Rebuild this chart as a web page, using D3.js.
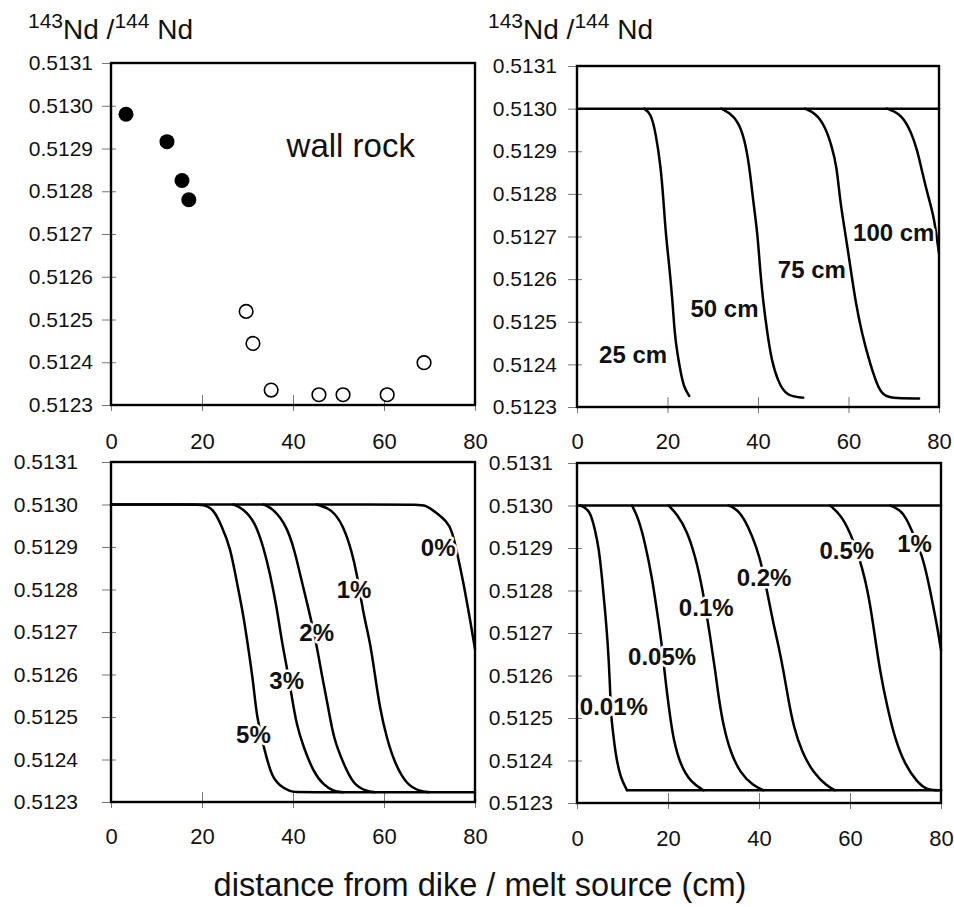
<!DOCTYPE html>
<html><head><meta charset="utf-8">
<script src="https://cdn.jsdelivr.net/npm/d3@7"></script>
<style>body{margin:0;background:#fff}</style>
</head><body><svg id="c" width="954" height="907"></svg>
<script>
// ---------- data ----------
const xTickValues = [0, 20, 40, 60, 80];
const yTickValues = [0.5123, 0.5124, 0.5125, 0.5126, 0.5127, 0.5128, 0.5129, 0.5130, 0.5131];

// panel A: wall rock measurements
const wallRockFilled = [[3.3,0.51298],[12.3,0.512916],[15.6,0.512825],[17.1,0.51278]];
const wallRockOpen = [[29.7,0.512519],[31.2,0.512444],[35.2,0.512335],[45.7,0.512324],[51.0,0.512324],[60.7,0.512324],[68.8,0.512399]];

// panel B: dike width curves
const initialLineB = [[0,0.5130],[80,0.5130]];
const curve25cm = [[14.8,0.5130],[16.3,0.51299],[17.4,0.512943],[18.5,0.512865],[19.1,0.512786],[19.6,0.512708],[20.4,0.51263],[21.1,0.51255],[21.6,0.51247],[22.2,0.512424],[23.0,0.512376],[23.7,0.512345],[24.8,0.512326]];
const curve50cm = [[31.9,0.5130],[33.7,0.51299],[35.6,0.51297],[37.0,0.51293],[38.1,0.512865],[38.9,0.512786],[39.9,0.512707],[40.4,0.51263],[41.1,0.51255],[42.1,0.51247],[43.0,0.51241],[44.4,0.51236],[46.3,0.512325],[50.0,0.512322]];
const curve75cm = [[50.4,0.5130],[52.6,0.51299],[54.8,0.51296],[56.3,0.512912],[57.4,0.512865],[58.1,0.512786],[59.3,0.512707],[60.4,0.51263],[61.5,0.51255],[63.0,0.51247],[64.8,0.5124],[66.7,0.51234],[68.1,0.512325],[70.4,0.51232],[75.6,0.51232]];
const curve100cm = [[68.5,0.5130],[71.1,0.51299],[73.3,0.51296],[75.2,0.512904],[76.3,0.51285],[77.8,0.512786],[78.9,0.512746],[80,0.51266]];
const labelsB = [["25 cm",12.4,0.512404],["50 cm",32.6,0.512511],["75 cm",51.9,0.512602],["100 cm",70.0,0.51269]];

// panel C: porosity curves
const curve5pct = [[0,0.5130],[18.5,0.5130],[20.3,0.5130],[22.5,0.51299],[24.3,0.51295],[26.2,0.5129],[27.6,0.51282],[29.1,0.51274],[30.2,0.51266],[31.3,0.51258],[32.0,0.5125],[33.8,0.51242],[35.3,0.51236],[37.1,0.512338],[39.3,0.512325],[40.8,0.512323],[42.5,0.512323],[80,0.512323]];
const curve3pct = [[26.9,0.5130],[29.1,0.51299],[31.6,0.51296],[33.5,0.5129],[34.9,0.51284],[36.4,0.51276],[37.5,0.51268],[38.6,0.51262],[39.7,0.51255],[40.8,0.51248],[42.3,0.51243],[44.5,0.51237],[46.7,0.51234],[48.9,0.512325],[51.0,0.512323]];
const curve2pct = [[33.5,0.5130],[35.7,0.51299],[38.6,0.51295],[40.4,0.51289],[41.9,0.51282],[43.3,0.51276],[45.2,0.51267],[46.3,0.5126],[47.8,0.51252],[48.9,0.51245],[51.1,0.51239],[53.3,0.51234],[56.2,0.512325],[58.0,0.512323]];
const curve1pct = [[45.2,0.5130],[48.5,0.51299],[51.1,0.51295],[52.9,0.51289],[54.0,0.51284],[55.5,0.51274],[56.9,0.51268],[58.0,0.5126],[59.1,0.51252],[60.6,0.51245],[62.4,0.51239],[65.0,0.51234],[67.9,0.512325],[70.0,0.512323]];
const curve0pct = [[0,0.5130],[67.0,0.5130],[69.0,0.5130],[71.6,0.51298],[73.8,0.51296],[74.9,0.51294],[76.0,0.51289],[77.4,0.51282],[78.9,0.51273],[80,0.51266]];
const labelsC = [["5%",31.3,0.512439],["3%",38.6,0.512565],["2%",45.2,0.512679],["1%",53.4,0.512781],["0%",71.9,0.51288]];

// panel D: melt fraction curves
const initialLineD = [[0,0.5130],[80,0.5130]];
const finalLineD = [[11.0,0.51233],[80,0.51233]];
const curve001pct = [[0.7,0.5130],[2.9,0.51299],[4.0,0.51294],[4.8,0.5129],[5.5,0.51283],[6.2,0.51275],[6.8,0.51267],[7.2,0.51259],[7.5,0.5125],[7.9,0.51247],[8.4,0.51242],[9.5,0.51236],[11.0,0.51233]];
const curve005pct = [[12.1,0.5130],[13.5,0.51297],[15.0,0.51291],[16.5,0.51283],[17.6,0.51275],[18.7,0.51267],[19.4,0.51259],[20.5,0.5125],[21.2,0.51245],[22.7,0.51239],[24.9,0.51235],[27.8,0.51233]];
const curve01pct = [[20.1,0.5130],[22.0,0.51298],[24.2,0.51294],[26.0,0.51288],[27.5,0.51281],[29.3,0.51269],[30.4,0.51261],[31.1,0.51255],[32.2,0.51248],[33.7,0.51242],[35.9,0.51237],[38.8,0.51234],[41.0,0.51233]];
const curve02pct = [[33.3,0.5130],[35.5,0.51299],[37.7,0.51295],[39.5,0.5129],[40.6,0.51286],[42.1,0.51278],[43.2,0.51272],[44.3,0.51267],[45.4,0.51261],[46.5,0.51254],[47.6,0.51248],[49.4,0.51242],[52.0,0.51237],[54.9,0.51234],[56.7,0.51233]];
const curve05pct = [[55.6,0.5130],[57.8,0.51298],[60.0,0.51294],[62.9,0.51285],[64.4,0.51277],[65.5,0.51269],[66.6,0.51261],[68.1,0.51253],[69.9,0.51245],[72.1,0.51239],[74.7,0.51235],[76.9,0.51233],[80,0.51233]];
const curve1pctD = [[68.8,0.5130],[71.0,0.51299],[72.5,0.51297],[76.1,0.51288],[77.6,0.5128],[79.1,0.51272],[80,0.51266]];
const labelsD = [["0.01%",8.1,0.512508],["0.05%",18.7,0.512624],["0.1%",28.4,0.512739],["0.2%",41.1,0.512811],["0.5%",59.3,0.512874],["1%",74.2,0.51289]];

const titleText = ["143", "Nd /", "144", " Nd"];
const xTitle = "distance from dike / melt source (cm)";

// ---------- drawing ----------
const FONT = "'Liberation Sans', Arial, Helvetica, sans-serif";
const svg = d3.select("#c").style("font-family", FONT);

function panel(cfg) {
  const x = d3.scaleLinear().domain([0, 80]).range([cfg.x0, cfg.x1]);
  const y = d3.scaleLinear().domain([0.5123, 0.5131]).range([cfg.yBot, cfg.yTop]);
  const g = svg.append("g");

  g.append("g").attr("transform", `translate(${cfg.x0},0)`)
    .call(d3.axisLeft(y).tickValues(yTickValues).tickFormat(d3.format(".4f")).tickSize(0).tickPadding(cfg.yPad))
    .call(a => {
      a.select(".domain").remove();
      a.selectAll(".tick line").attr("x1", -9).attr("x2", 5).attr("stroke", "#777").attr("stroke-width", 1);
      a.selectAll(".tick text").attr("font-size", 21).attr("font-family", FONT).attr("fill", "#111");
    });
  g.append("g").attr("transform", `translate(0,${cfg.yBot})`)
    .call(d3.axisBottom(x).tickValues(xTickValues).tickSize(0).tickPadding(cfg.xPad))
    .call(a => {
      a.select(".domain").remove();
      a.selectAll(".tick line").attr("y1", -10).attr("y2", 6).attr("stroke", "#777").attr("stroke-width", 1);
      a.selectAll(".tick text").attr("font-size", 22).attr("font-family", FONT).attr("fill", "#111");
    });

  g.append("rect").attr("x", cfg.x0).attr("y", cfg.yTop)
    .attr("width", cfg.x1 - cfg.x0).attr("height", cfg.yBot - cfg.yTop)
    .attr("fill", "none").attr("stroke", "#000").attr("stroke-width", 2.4);

  const line = d3.line().x(d => x(d[0])).y(d => y(d[1])).curve(d3.curveBasis);
  (cfg.lines || []).forEach(s => {
    g.append("path").datum(s).attr("d", line)
      .attr("fill", "none").attr("stroke", "#000").attr("stroke-width", 2.5)
      .attr("stroke-linejoin", "round").attr("stroke-linecap", "round");
  });

  (cfg.labels || []).forEach(l => {
    g.append("text").attr("x", x(l[1])).attr("y", y(l[2]))
      .attr("text-anchor", "middle").attr("font-size", 24).attr("font-weight", "bold")
      .attr("fill", "#111").attr("stroke", "#fff").attr("stroke-width", 5)
      .attr("paint-order", "stroke").attr("stroke-linejoin", "round")
      .text(l[0]);
  });
  return {g, x, y};
}

function title(px, py) {
  const t = svg.append("text").attr("x", px).attr("y", py).attr("fill", "#111");
  t.append("tspan").attr("font-size", 21).attr("dy", -11).text(titleText[0]);
  t.append("tspan").attr("font-size", 28).attr("dy", 11).text(titleText[1]);
  t.append("tspan").attr("font-size", 21).attr("dy", -11).text(titleText[2]);
  t.append("tspan").attr("font-size", 28).attr("dy", 11).text(titleText[3]);
}

// Panel A
const A = panel({x0: 111, x1: 475, yTop: 63, yBot: 405, yPad: 18, xPad: 28});
A.g.selectAll("circle.f").data(wallRockFilled).join("circle")
  .attr("cx", d => A.x(d[0])).attr("cy", d => A.y(d[1])).attr("r", 7.5).attr("fill", "#000");
A.g.selectAll("circle.o").data(wallRockOpen).join("circle")
  .attr("cx", d => A.x(d[0])).attr("cy", d => A.y(d[1])).attr("r", 6.8)
  .attr("fill", "#fff").attr("stroke", "#000").attr("stroke-width", 1.6);
A.g.append("text").attr("x", A.x(52.7)).attr("y", A.y(0.51288)).attr("text-anchor", "middle")
  .attr("font-size", 33).attr("fill", "#111").text("wall rock");
title(28, 39);

// Panel B
panel({x0: 577, x1: 939, yTop: 66, yBot: 407, yPad: 20, xPad: 26,
  lines: [initialLineB, curve25cm, curve50cm, curve75cm, curve100cm], labels: labelsB});
title(488, 39);

// Panel C
panel({x0: 111, x1: 475, yTop: 462, yBot: 802, yPad: 33, xPad: 26,
  lines: [curve5pct, curve3pct, curve2pct, curve1pct, curve0pct], labels: labelsC});

// Panel D
panel({x0: 577, x1: 941, yTop: 463, yBot: 803, yPad: 24, xPad: 27,
  lines: [initialLineD, finalLineD, curve001pct, curve005pct, curve01pct, curve02pct, curve05pct, curve1pctD], labels: labelsD});

svg.append("text").attr("x", 480).attr("y", 896).attr("text-anchor", "middle")
  .attr("font-size", 32.5).attr("fill", "#111").text(xTitle);
</script></body></html>
